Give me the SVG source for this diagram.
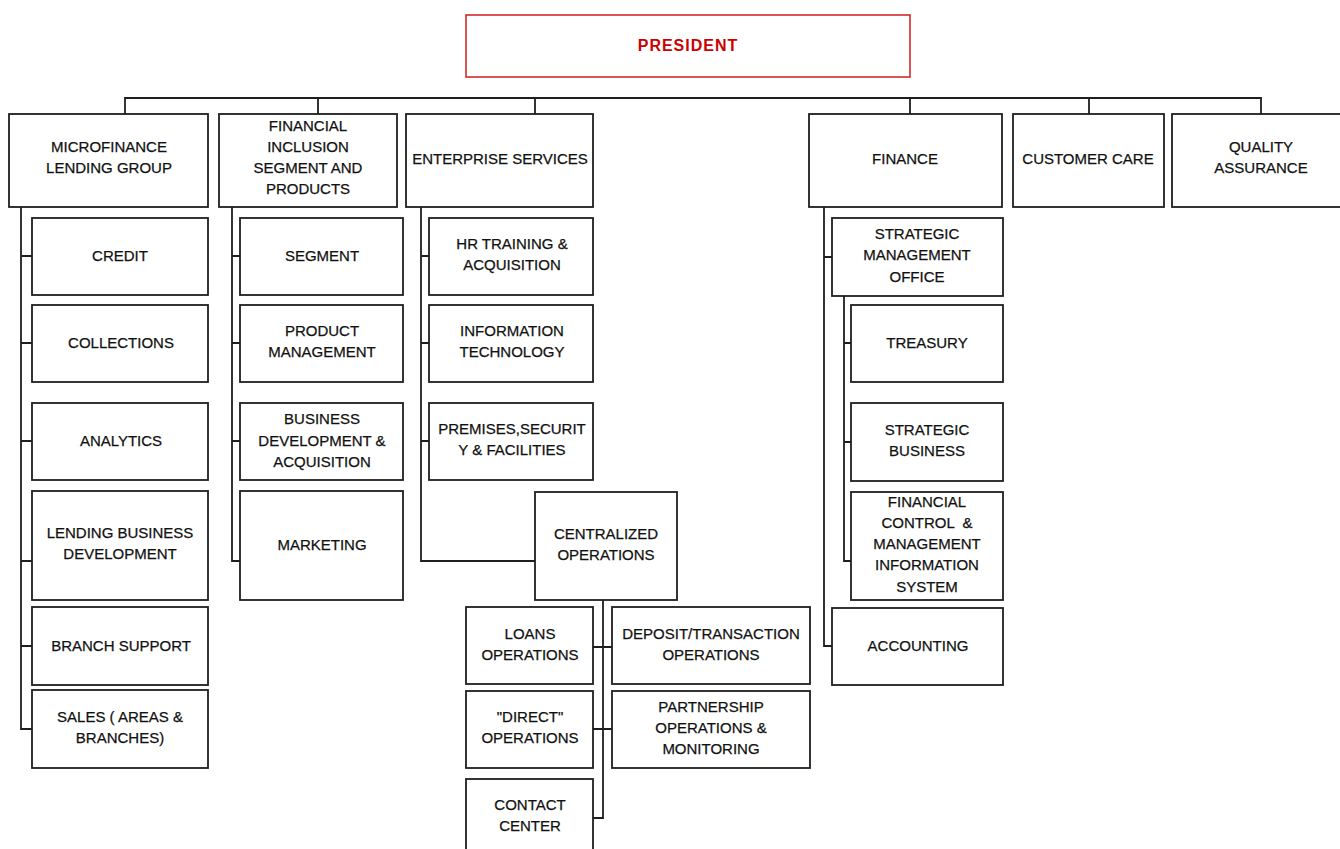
<svg xmlns="http://www.w3.org/2000/svg" width="1340" height="849" viewBox="0 0 1340 849">
<style>
.box{fill:#fff;stroke:#1e1e1e;stroke-width:1.8}
.pbox{fill:#fff;stroke:#d42a2a;stroke-width:1.6}
.t{font-family:"Liberation Sans",Arial,sans-serif;font-size:15px;fill:#111;stroke:#111;stroke-width:0.25;text-anchor:middle}
.pt{font-family:"Liberation Sans",Arial,sans-serif;font-size:16px;font-weight:bold;fill:#cc0000;text-anchor:middle;letter-spacing:1px}
.c{fill:none;stroke:#1e1e1e;stroke-width:1.8}
</style>
<rect width="1340" height="849" fill="#fff"/>
<g id="connectors">
<path class="c" d="M125 114V98H1261V114M318 98V114M535 98V114M910 98V114M1089 98V114"/>
<path class="c" d="M21 207V729H32M21 256H32M21 343H32M21 441H32M21 561H32M21 646H32"/>
<path class="c" d="M232 207V561H240M232 256H240M232 343H240M232 441H240"/>
<path class="c" d="M421 207V561H535M421 256H429M421 343H429M421 441H429"/>
<path class="c" d="M603 600V818H593M593 647H612M593 729H612"/>
<path class="c" d="M824 207V646H832M824 257H832"/>
<path class="c" d="M844 296V561H851M844 343H851M844 442H851"/>
</g>
<g id="president"><rect class="pbox" x="466" y="15" width="444" height="62"/><text class="pt" x="688" y="51">PRESIDENT</text></g>
<g id="microfinance"><rect class="box" x="9" y="114" width="199" height="93"/><text class="t" x="109" y="152">MICROFINANCE</text><text class="t" x="109" y="173">LENDING GROUP</text></g>
<g id="fininclusion"><rect class="box" x="219" y="114" width="178" height="93"/><text class="t" x="308" y="131">FINANCIAL</text><text class="t" x="308" y="152">INCLUSION</text><text class="t" x="308" y="173">SEGMENT AND</text><text class="t" x="308" y="194">PRODUCTS</text></g>
<g id="enterprise"><rect class="box" x="406" y="114" width="187" height="93"/><text class="t" x="500" y="164">ENTERPRISE SERVICES</text></g>
<g id="finance"><rect class="box" x="809" y="114" width="193" height="93"/><text class="t" x="905" y="164">FINANCE</text></g>
<g id="customercare"><rect class="box" x="1013" y="114" width="151" height="93"/><text class="t" x="1088" y="164">CUSTOMER CARE</text></g>
<g id="quality"><rect class="box" x="1172" y="114" width="180" height="93"/><text class="t" x="1261" y="152">QUALITY</text><text class="t" x="1261" y="173">ASSURANCE</text></g>
<g id="credit"><rect class="box" x="32" y="218" width="176" height="77"/><text class="t" x="120" y="261">CREDIT</text></g>
<g id="collections"><rect class="box" x="32" y="305" width="176" height="77"/><text class="t" x="121" y="348">COLLECTIONS</text></g>
<g id="analytics"><rect class="box" x="32" y="403" width="176" height="77"/><text class="t" x="121" y="446">ANALYTICS</text></g>
<g id="lendingbiz"><rect class="box" x="32" y="491" width="176" height="109"/><text class="t" x="120" y="538">LENDING BUSINESS</text><text class="t" x="120" y="559">DEVELOPMENT</text></g>
<g id="branchsupport"><rect class="box" x="32" y="607" width="176" height="78"/><text class="t" x="121" y="651">BRANCH SUPPORT</text></g>
<g id="sales"><rect class="box" x="32" y="690" width="176" height="78"/><text class="t" x="120" y="722">SALES ( AREAS &amp;</text><text class="t" x="120" y="743">BRANCHES)</text></g>
<g id="segment"><rect class="box" x="240" y="218" width="163" height="77"/><text class="t" x="322" y="261">SEGMENT</text></g>
<g id="productmgmt"><rect class="box" x="240" y="305" width="163" height="77"/><text class="t" x="322" y="336">PRODUCT</text><text class="t" x="322" y="357">MANAGEMENT</text></g>
<g id="bizdev"><rect class="box" x="240" y="403" width="163" height="77"/><text class="t" x="322" y="424">BUSINESS</text><text class="t" x="322" y="446">DEVELOPMENT &amp;</text><text class="t" x="322" y="467">ACQUISITION</text></g>
<g id="marketing"><rect class="box" x="240" y="491" width="163" height="109"/><text class="t" x="322" y="550">MARKETING</text></g>
<g id="hr"><rect class="box" x="429" y="218" width="164" height="77"/><text class="t" x="512" y="249">HR TRAINING &amp;</text><text class="t" x="512" y="270">ACQUISITION</text></g>
<g id="it"><rect class="box" x="429" y="305" width="164" height="77"/><text class="t" x="512" y="336">INFORMATION</text><text class="t" x="512" y="357">TECHNOLOGY</text></g>
<g id="premises"><rect class="box" x="429" y="403" width="164" height="77"/><text class="t" x="512" y="434">PREMISES,SECURIT</text><text class="t" x="512" y="455">Y &amp; FACILITIES</text></g>
<g id="centralized"><rect class="box" x="535" y="492" width="142" height="108"/><text class="t" x="606" y="539">CENTRALIZED</text><text class="t" x="606" y="560">OPERATIONS</text></g>
<g id="loans"><rect class="box" x="466" y="607" width="127" height="77"/><text class="t" x="530" y="639">LOANS</text><text class="t" x="530" y="660">OPERATIONS</text></g>
<g id="deposit"><rect class="box" x="612" y="607" width="198" height="77"/><text class="t" x="711" y="639">DEPOSIT/TRANSACTION</text><text class="t" x="711" y="660">OPERATIONS</text></g>
<g id="direct"><rect class="box" x="466" y="691" width="127" height="77"/><text class="t" x="530" y="722">"DIRECT"</text><text class="t" x="530" y="743">OPERATIONS</text></g>
<g id="partnership"><rect class="box" x="612" y="691" width="198" height="77"/><text class="t" x="711" y="712">PARTNERSHIP</text><text class="t" x="711" y="733">OPERATIONS &amp;</text><text class="t" x="711" y="754">MONITORING</text></g>
<g id="contact"><rect class="box" x="466" y="779" width="127" height="90"/><text class="t" x="530" y="810">CONTACT</text><text class="t" x="530" y="831">CENTER</text></g>
<g id="smo"><rect class="box" x="832" y="218" width="171" height="78"/><text class="t" x="917" y="239">STRATEGIC</text><text class="t" x="917" y="260">MANAGEMENT</text><text class="t" x="917" y="282">OFFICE</text></g>
<g id="treasury"><rect class="box" x="851" y="305" width="152" height="77"/><text class="t" x="927" y="348">TREASURY</text></g>
<g id="stratbiz"><rect class="box" x="851" y="403" width="152" height="78"/><text class="t" x="927" y="435">STRATEGIC</text><text class="t" x="927" y="456">BUSINESS</text></g>
<g id="fincontrol"><rect class="box" x="851" y="492" width="152" height="108"/><text class="t" x="927" y="507">FINANCIAL</text><text class="t" x="927" y="528" xml:space="preserve" style="white-space:pre">CONTROL  &amp;</text><text class="t" x="927" y="549">MANAGEMENT</text><text class="t" x="927" y="570">INFORMATION</text><text class="t" x="927" y="592">SYSTEM</text></g>
<g id="accounting"><rect class="box" x="832" y="608" width="171" height="77"/><text class="t" x="918" y="651">ACCOUNTING</text></g>
</svg>
